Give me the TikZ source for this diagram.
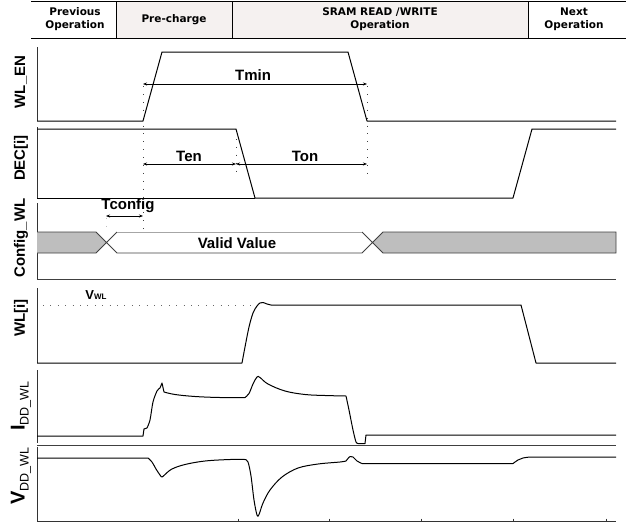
\documentclass[tikz,border=0pt]{standalone}
\usepackage{fontspec}
\newfontfamily\hdrfont{DejaVu Sans}
\newfontfamily\lblfont{Liberation Sans}
\usetikzlibrary{arrows.meta}
\definecolor{hdrtint}{HTML}{F5F1F0}
\definecolor{busgray}{HTML}{BEBEBE}
\begin{document}
\begin{tikzpicture}[x=1pt,y=-1pt,
  sig/.style={line width=1pt, black, line join=round},
  sepline/.style={line width=0.9pt, black!75},
  axisline/.style={line width=0.8pt, black!80},
  hline/.style={line width=0.9pt, black},
  dimarrow/.style={line width=0.8pt, {Stealth[length=4pt,width=3pt]}-{Stealth[length=4pt,width=3pt]}},
  guide/.style={line width=1pt, black!75, dash pattern=on 0.9pt off 7pt},
  hdr/.style={font=\hdrfont\bfseries\fontsize{10.5}{13}\selectfont, align=center, inner sep=0pt},
  lbl/.style={font=\lblfont\bfseries\fontsize{15}{15}\selectfont, inner sep=0pt},
  ylab/.style={lbl, rotate=90},
  busline/.style={line width=0.8pt, black!75},
]
\useasboundingbox (0,0) rectangle (626,522);

% ---------- header ----------
\fill[hdrtint] (116,1) rectangle (528,38);
\draw[hline] (31,1) -- (626,1) (31,38) -- (626,38)
  (116,1) -- (116,38) (232,1) -- (232,38) (528,1) -- (528,38);
\node[hdr] (prev) at (75,19.5) {Previous\\Operation};
\node[hdr] (pre)  at (174,19.5) {Pre-charge};
\node[hdr] (sram) at (380,19.5) {SRAM READ /WRITE\\Operation};
\node[hdr] (next) at (574,19.5) {Next\\Operation};

% ---------- left axis lines ----------
\draw[axisline] (37,47) -- (37,121) (37,127) -- (37,198) (37,203) -- (37,279)
  (37,288) -- (37,363) (37,370) -- (37,443) (37,447) -- (37,521);

% ---------- y labels ----------
\node[ylab] (lwlen) at (21,82) {WL\_EN};
\node[ylab] (ldec) at (21,158) {DEC[i]};
\node[ylab] (lcfg) at (21,238) {Config\_WL};
\node[ylab] (lwl) at (21,318) {WL[i]};
\node[ylab] (lidd) at (21,406) {{\fontsize{20}{20}\selectfont I}\raisebox{-4pt}{\mdseries\fontsize{12.5}{12.5}\selectfont DD\_WL}};
\node[ylab] (lvdd) at (21,476) {{\fontsize{20}{20}\selectfont V}\raisebox{-4pt}{\mdseries\fontsize{12.5}{12.5}\selectfont DD\_WL}};

% ---------- guides ----------
\draw[guide] (143,86) -- (143,230);
\draw[guide] (367,86) -- (367,178);
\draw[guide] (236,131) -- (236,174);
\draw[guide, black!25] (106,218) -- (106,232);
\draw[guide, black!60, dash pattern=on 0.9pt off 6.5pt] (43,305) -- (256,305);

% ---------- WL_EN ----------
\draw[sig] (37,121) -- (143,121) -- (162,52) -- (348,52) -- (367,121) -- (616,121);
\coordinate (tminL) at (143,84);
\coordinate (tminR) at (367,84);
\draw[dimarrow] (tminL) -- (tminR);
\node[lbl] (tmin) at (253,75) {Tmin};

% ---------- DEC[i] ----------
\draw[sig] (37,129) -- (236,129) -- (255,198) -- (513,198) -- (532,129) -- (616,129);
\draw[sig] (37,198) -- (255,198);
\coordinate (tenL) at (143,164);
\coordinate (tenR) at (236,164);
\coordinate (tonR) at (367,164);
\draw[dimarrow] (tenL) -- (tenR);
\draw[dimarrow] (tenR) -- (tonR);
\node[lbl] (ten) at (189,156) {Ten};
\node[lbl] (ton) at (305,156) {Ton};

% ---------- Config_WL ----------
\coordinate (tcL) at (106,216);
\coordinate (tcR) at (143,216);
\draw[dimarrow] (tcL) -- (tcR);
\node[lbl] (tconfig) at (128,206) {Tconfig};
\fill[busgray] (37,232) -- (96,232) -- (106.5,242.5) -- (96,253) -- (37,253) -- cycle;
\fill[busgray] (383,232) -- (616,232) -- (616,253) -- (383,253) -- (372.5,242.5) -- cycle;
\draw[busline] (37,232) -- (96,232) (37,253) -- (96,253)
  (96,232) -- (117,253) (96,253) -- (117,232)
  (117,253) -- (362,253)
  (362,232) -- (383,253) (362,253) -- (383,232)
  (383,232) -- (616,232) -- (616,253) -- (383,253);
\draw[busline, black!35] (117,232) -- (362,232);
\node[lbl] (valid) at (237,243) {Valid Value};
\draw[sepline] (37,279) -- (616,279);

% ---------- WL[i] ----------
\node[inner sep=0pt, font=\lblfont\bfseries] (vwl) at (96,295.5) {{\fontsize{13}{13}\selectfont V}{\fontsize{8}{8}\selectfont WL}};
\draw[sig] (37,363) -- (242,363)
  plot[smooth, tension=0.55] coordinates {(242,363) (245,347) (249,327) (253,313) (257,306) (260,303) (263,302.5) (267,304) (271,305)}
  -- (521,305) -- (536,363) -- (616,363);

% ---------- IDD_WL ----------
\draw[sig] (37,436) -- (143,436) -- (144,429) -- (147,428)
  plot[smooth, tension=0.5] coordinates {(147,428) (150,420) (153,402) (157,391) (160,388)}
  -- (162,383) -- (164,392)
  plot[smooth, tension=0.6] coordinates {(164,392) (175,394.5) (195,396.5) (220,397.5) (245,397.5)}
  plot[smooth, tension=0.6] coordinates {(245,397.5) (249,393.5) (253,384) (257,377) (260,377.5) (268,384) (285,391) (305,394.5) (325,395.5) (346,396)}
  plot[smooth, tension=0.5] coordinates {(346,396) (349,410) (353,430) (356,442) (358,443.5)}
  -- (365,443.5) -- (366,435) -- (616,435);
\draw[sepline] (37,445) -- (616,445);

% ---------- VDD_WL ----------
\draw[sig] (37,458) -- (148,458)
  plot[smooth, tension=0.6] coordinates {(148,458) (152,462) (156,469) (160,475) (162,477) (165,474.5) (172,469) (185,464.5) (205,461) (230,459.5) (245,459.5)}
  plot[smooth, tension=0.55] coordinates {(245,459.5) (248,462) (251,476) (254,500) (257,515) (259,514.5) (263,503) (270,490) (282,477) (298,468) (318,464) (340,462) (346,461)}
  plot[smooth, tension=0.6] coordinates {(346,461) (350,456.5) (353,457) (357,461) (362,463.5)}
  -- (513,463.5)
  plot[smooth, tension=0.6] coordinates {(513,463.5) (518,460) (523,458) (530,457)}
  -- (616,457);

% ---------- bottom axis ----------
\draw[axisline] (37,521) -- (616,521);
\foreach \t in {238,329,421,513,606} \draw[axisline] (\t,518.5) -- (\t,522);
\end{tikzpicture}
\end{document}
